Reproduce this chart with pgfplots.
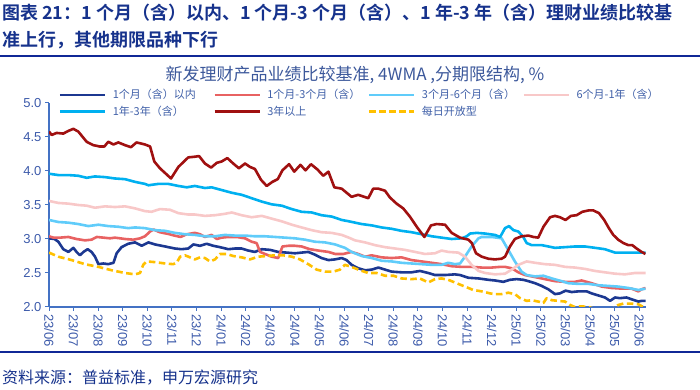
\documentclass[border=0pt]{standalone}
\usepackage{pgfplots}
\pgfplotsset{compat=1.18}
\usepackage{fontspec}
\setmainfont{Liberation Sans}
\newfontfamily\cjk{Noto Sans CJK SC}[BoldFont={Noto Sans CJK SC Bold}]
\definecolor{hdr}{RGB}{22,50,140}
\definecolor{hline}{RGB}{16,40,150}
\definecolor{ttl}{RGB}{60,88,155}
\definecolor{legtext}{RGB}{64,96,168}
\definecolor{ticklab}{RGB}{60,90,170}
\definecolor{axisblue}{RGB}{68,114,196}
\definecolor{cA}{RGB}{28,56,145}
\definecolor{cB}{RGB}{232,98,98}
\definecolor{cC}{RGB}{96,204,250}
\definecolor{cD}{RGB}{248,200,200}
\definecolor{cE}{RGB}{0,176,240}
\definecolor{cF}{RGB}{160,16,16}
\definecolor{cG}{RGB}{255,192,0}
\begin{document}
\begin{tikzpicture}
\path[use as bounding box] (0pt,0pt) rectangle (700pt,390pt);
\node[anchor=west, inner sep=0pt, text=hdr, font=\cjk\bfseries\fontsize{18}{22}\selectfont] at (2pt,377pt) {图表 21：1 个月（含）以内、1 个月-3 个月（含）、1 年-3 年（含）理财业绩比较基};
\node[anchor=west, inner sep=0pt, text=hdr, font=\cjk\bfseries\fontsize{18}{22}\selectfont] at (2pt,350pt) {准上行，其他期限品种下行};
\draw[hline, line width=2.5pt] (0pt,334pt) -- (700pt,334pt);
\draw[hline, line width=2.5pt] (0pt,38pt) -- (700pt,38pt);
\node[anchor=west, inner sep=0pt, text=hdr, font=\cjk\fontsize{16}{18}\selectfont] at (2pt,12pt) {资料来源：普益标准，申万宏源研究};
\node[inner sep=0pt, text=ttl, font=\cjk\fontsize{17}{18}\selectfont] at (355pt,315pt) {新发理财产品业绩比较基准, 4WMA ,分期限结构, \%};
\begin{axis}[
  at={(49pt,83pt)}, anchor=south west,
  scale only axis, width=596.5pt, height=204pt,
  xmin=0, xmax=24.25, ymin=2, ymax=5,
  axis lines*=left,
  axis line style={draw=axisblue, line width=1.2pt, -},
  tick style={draw=axisblue, line width=1pt},
  major tick length=4pt, tick align=outside,
  xtick={0,1,...,24},
  xticklabels={23/06,23/07,23/08,23/09,23/10,23/11,23/12,24/01,24/02,24/03,24/04,24/05,24/06,24/07,24/08,24/09,24/10,24/11,24/12,25/01,25/02,25/03,25/04,25/05,25/06},
  ytick={2,2.5,3,3.5,4,4.5,5},
  yticklabel style={/pgf/number format/.cd, fixed, fixed zerofill, precision=1},
  /pgf/number format/assume math mode=true,
  ticklabel style={font=\fontsize{13}{13}\selectfont, text=ticklab},
  xticklabel style={rotate=-90, anchor=west},
  legend columns=4,
  legend style={at={(axis description cs:0.0159,1.075)}, anchor=north west, draw=none, fill=none,
    font=\cjk\fontsize{11}{12}\selectfont, text=legtext, inner sep=0pt,
    nodes={inner sep=1.5pt}, row sep=3pt,
    /tikz/every odd column/.append style={column sep=5pt},
    /tikz/every even column/.append style={column sep=0pt}},
  legend image code/.code={\draw[#1] (0pt,0pt) -- (45pt,0pt);},
  every axis plot/.append style={line width=2.6pt, line join=round},
]
\addplot[cA] coordinates {(0,3.01)(0.22,3.00)(0.38,2.96)(0.58,2.85)(0.79,2.81)(0.99,2.87)(1.12,2.81)(1.26,2.76)(1.40,2.81)(1.57,2.85)(1.73,2.81)(1.87,2.74)(2.01,2.63)(2.21,2.64)(2.41,2.63)(2.62,2.65)(2.75,2.79)(2.95,2.88)(3.22,2.93)(3.50,2.95)(3.77,2.90)(4.04,2.95)(4.31,2.92)(4.72,2.89)(5.12,2.86)(5.39,2.85)(5.66,2.86)(5.87,2.92)(6.14,2.90)(6.41,2.93)(6.68,2.90)(6.95,2.88)(7.29,2.85)(7.56,2.86)(7.83,2.86)(8.10,2.83)(8.37,2.81)(8.65,2.85)(8.99,2.84)(9.32,2.81)(9.66,2.80)(10.00,2.79)(10.27,2.80)(10.54,2.81)(10.81,2.77)(11.08,2.72)(11.36,2.69)(11.63,2.70)(11.90,2.72)(12.10,2.69)(12.30,2.62)(12.57,2.57)(12.85,2.54)(13.12,2.55)(13.39,2.58)(13.66,2.55)(13.93,2.52)(14.33,2.51)(14.74,2.51)(15.08,2.53)(15.42,2.50)(15.69,2.47)(16.10,2.47)(16.50,2.48)(16.71,2.47)(17.05,2.43)(17.46,2.42)(17.86,2.40)(18.13,2.39)(18.47,2.37)(18.74,2.40)(19.01,2.41)(19.28,2.40)(19.49,2.38)(19.76,2.35)(20.03,2.31)(20.30,2.26)(20.57,2.19)(20.77,2.20)(21.00,2.24)(21.25,2.22)(21.52,2.23)(21.86,2.23)(22.06,2.20)(22.33,2.17)(22.60,2.14)(22.81,2.09)(23.01,2.14)(23.21,2.13)(23.48,2.14)(23.71,2.11)(23.96,2.08)(24.09,2.09)(24.25,2.09)};
\addlegendentry{\makebox[99pt][l]{1个月（含）以内}}
\addplot[cB] coordinates {(0,3.04)(0.18,3.02)(0.45,3.02)(0.79,3.03)(1.12,3.00)(1.46,2.98)(1.73,2.99)(1.94,3.03)(2.21,3.02)(2.48,3.01)(2.68,3.02)(3.09,3.00)(3.43,2.99)(3.70,3.01)(3.90,3.04)(4.11,3.11)(4.25,3.14)(4.5,3.10)(4.9,3.07)(5.1,3.05)(5.35,3.03)(5.6,3.07)(5.93,3.09)(6.14,3.07)(6.34,3.03)(6.61,3.06)(6.82,3.00)(7.02,3.02)(7.29,3.03)(7.63,3.03)(7.97,3.01)(8.24,2.96)(8.44,2.94)(8.58,2.81)(8.78,2.78)(9.05,2.74)(9.32,2.72)(9.49,2.89)(9.73,2.90)(10.00,2.90)(10.27,2.89)(10.61,2.85)(10.95,2.83)(11.36,2.81)(11.63,2.78)(11.97,2.78)(12.19,2.80)(12.30,2.81)(12.57,2.78)(12.85,2.74)(13.12,2.76)(13.52,2.73)(13.93,2.72)(14.33,2.73)(14.74,2.69)(15.15,2.67)(15.56,2.65)(15.96,2.63)(16.37,2.60)(16.78,2.59)(17.18,2.59)(17.59,2.58)(18.00,2.58)(18.34,2.59)(18.54,2.59)(18.81,2.57)(19.08,2.51)(19.35,2.47)(19.76,2.44)(20.16,2.41)(20.57,2.38)(20.98,2.37)(21.38,2.37)(21.65,2.39)(22.06,2.35)(22.47,2.30)(22.87,2.28)(23.28,2.27)(23.68,2.27)(23.96,2.23)(24.09,2.26)(24.25,2.28)};
\addlegendentry{\makebox[99pt][l]{1个月-3个月（含）}}
\addplot[cC] coordinates {(0,3.28)(0.38,3.25)(0.79,3.24)(1.19,3.22)(1.60,3.19)(2.01,3.21)(2.41,3.19)(2.82,3.18)(3.22,3.16)(3.50,3.17)(3.90,3.16)(4.31,3.13)(4.72,3.12)(5.12,3.09)(5.53,3.07)(5.93,3.06)(6.34,3.04)(6.75,3.04)(7.15,3.06)(7.56,3.05)(7.97,3.05)(8.37,3.04)(8.78,3.04)(9.19,3.03)(9.59,3.02)(10.00,3.01)(10.41,2.99)(10.81,2.96)(11.22,2.95)(11.63,2.92)(12.03,2.87)(12.30,2.81)(12.71,2.75)(13.12,2.72)(13.52,2.68)(13.93,2.67)(14.33,2.65)(14.74,2.64)(15.15,2.63)(15.56,2.62)(15.96,2.62)(16.23,2.65)(16.50,2.63)(16.71,2.64)(16.91,2.74)(17.18,2.89)(17.46,3.01)(17.59,3.03)(18.00,3.03)(18.40,3.01)(18.67,2.84)(18.94,2.67)(19.21,2.52)(19.42,2.47)(19.76,2.45)(20.10,2.46)(20.44,2.42)(20.84,2.38)(21.11,2.35)(21.52,2.34)(21.93,2.34)(22.33,2.32)(22.74,2.31)(23.14,2.30)(23.55,2.28)(23.96,2.25)(24.25,2.27)};
\addlegendentry{\makebox[99pt][l]{3个月-6个月（含）}}
\addplot[cD] coordinates {(0,3.56)(0.38,3.53)(0.79,3.52)(1.19,3.50)(1.53,3.49)(1.87,3.46)(2.28,3.48)(2.68,3.47)(3.09,3.48)(3.50,3.45)(3.90,3.41)(4.17,3.40)(4.51,3.44)(4.92,3.43)(5.26,3.38)(5.66,3.36)(5.93,3.36)(6.34,3.34)(6.75,3.35)(7.15,3.37)(7.43,3.39)(7.83,3.35)(8.24,3.32)(8.65,3.34)(9.05,3.30)(9.46,3.26)(9.87,3.21)(10.27,3.17)(10.68,3.13)(11.08,3.10)(11.49,3.09)(11.90,3.06)(12.19,3.02)(12.44,2.98)(12.85,2.95)(13.25,2.91)(13.66,2.88)(14.07,2.86)(14.47,2.84)(14.88,2.81)(15.28,2.78)(15.69,2.79)(15.96,2.83)(16.23,2.81)(16.64,2.80)(16.91,2.74)(17.18,2.62)(17.46,2.53)(17.73,2.50)(18.13,2.48)(18.54,2.49)(18.81,2.55)(19.08,2.62)(19.42,2.67)(19.76,2.65)(20.16,2.63)(20.57,2.62)(20.98,2.59)(21.38,2.58)(21.79,2.56)(22.20,2.53)(22.60,2.51)(23.01,2.49)(23.41,2.48)(23.82,2.50)(24.09,2.50)(24.25,2.50)};
\addlegendentry{\makebox[99pt][l]{6个月-1年（含）}}
\addplot[cE] coordinates {(0,3.96)(0.38,3.94)(0.79,3.94)(1.19,3.93)(1.53,3.90)(1.87,3.92)(2.28,3.91)(2.68,3.89)(3.09,3.88)(3.50,3.84)(3.90,3.81)(4.04,3.79)(4.44,3.81)(4.85,3.81)(5.26,3.78)(5.60,3.76)(5.93,3.78)(6.34,3.75)(6.61,3.76)(7.02,3.72)(7.43,3.68)(7.83,3.65)(8.24,3.60)(8.65,3.55)(9.05,3.51)(9.46,3.49)(9.87,3.44)(10.27,3.40)(10.68,3.39)(11.08,3.35)(11.49,3.33)(11.90,3.28)(12.19,3.26)(12.71,3.22)(13.12,3.20)(13.52,3.17)(13.93,3.15)(14.33,3.12)(14.74,3.10)(15.15,3.07)(15.56,3.04)(15.96,3.02)(16.37,3.00)(16.78,3.01)(16.98,3.04)(17.12,3.08)(17.39,3.09)(17.73,3.08)(18.13,3.06)(18.34,3.03)(18.54,3.16)(18.70,3.19)(18.88,3.13)(19.08,3.11)(19.28,3.03)(19.42,2.94)(19.62,2.91)(20.03,2.91)(20.30,2.89)(20.57,2.87)(20.98,2.88)(21.38,2.89)(21.79,2.89)(22.20,2.87)(22.60,2.85)(23.01,2.80)(23.41,2.80)(23.82,2.80)(24.25,2.80)};
\addlegendentry{\makebox[99pt][l]{1年-3年（含）}}
\addplot[cF] coordinates {(0,4.58)(0.11,4.53)(0.31,4.56)(0.58,4.55)(0.79,4.59)(0.99,4.62)(1.19,4.58)(1.53,4.43)(1.80,4.38)(2.07,4.36)(2.25,4.36)(2.41,4.43)(2.62,4.39)(2.82,4.42)(3.09,4.38)(3.33,4.35)(3.56,4.42)(3.90,4.39)(4.11,4.36)(4.28,4.14)(4.51,4.04)(4.96,3.89)(5.26,4.06)(5.66,4.20)(5.93,4.21)(6.10,4.22)(6.34,4.11)(6.59,4.05)(6.82,4.12)(7.02,4.14)(7.25,4.19)(7.49,4.11)(7.72,4.04)(7.97,4.11)(8.17,4.06)(8.37,4.03)(8.62,3.87)(8.85,3.78)(9.08,3.84)(9.30,3.88)(9.49,4.01)(9.76,4.10)(9.97,3.99)(10.22,4.09)(10.43,4.01)(10.65,4.10)(10.92,4.02)(11.15,3.93)(11.36,3.99)(11.60,3.76)(11.90,3.74)(12.10,3.68)(12.30,3.62)(12.57,3.65)(12.98,3.60)(13.18,3.74)(13.39,3.74)(13.66,3.71)(13.86,3.61)(14.13,3.52)(14.40,3.45)(14.67,3.33)(14.95,3.18)(15.26,3.03)(15.53,3.20)(15.76,3.22)(16.10,3.21)(16.37,3.09)(16.71,3.02)(17.05,2.99)(17.19,2.94)(17.36,2.79)(17.59,2.74)(17.86,2.71)(18.13,2.70)(18.40,2.71)(18.54,2.74)(18.74,2.89)(18.94,3.00)(19.21,3.04)(19.49,3.05)(19.69,3.03)(19.89,3.02)(20.10,3.18)(20.37,3.32)(20.57,3.34)(20.77,3.32)(21.00,3.28)(21.22,3.34)(21.45,3.35)(21.68,3.40)(21.93,3.42)(22.13,3.42)(22.36,3.38)(22.57,3.28)(22.76,3.16)(22.94,3.06)(23.14,2.99)(23.35,2.94)(23.55,2.91)(23.71,2.91)(23.89,2.86)(24.09,2.81)(24.25,2.78)};
\addlegendentry{\makebox[99pt][l]{3年以上}}
\addplot[cG, dash pattern=on 6.5pt off 3.5pt] coordinates {(0,2.80)(0.38,2.74)(0.92,2.69)(1.46,2.63)(2.01,2.59)(2.55,2.54)(3.09,2.50)(3.50,2.48)(3.70,2.50)(3.83,2.62)(3.97,2.67)(4.31,2.66)(4.72,2.64)(5.05,2.63)(5.19,2.65)(5.33,2.74)(5.53,2.76)(5.80,2.72)(5.93,2.70)(6.14,2.73)(6.34,2.72)(6.54,2.67)(6.75,2.70)(6.95,2.78)(7.22,2.78)(7.49,2.75)(7.83,2.73)(8.17,2.70)(8.51,2.74)(8.85,2.75)(9.19,2.76)(9.53,2.76)(9.87,2.74)(10.20,2.70)(10.54,2.63)(10.88,2.55)(11.22,2.52)(11.56,2.52)(11.83,2.55)(12.03,2.62)(12.30,2.59)(12.64,2.54)(12.98,2.50)(13.32,2.50)(13.66,2.46)(14.00,2.46)(14.33,2.42)(14.74,2.41)(15.08,2.42)(15.42,2.36)(15.69,2.41)(15.96,2.42)(16.23,2.40)(16.57,2.35)(16.91,2.30)(17.25,2.25)(17.59,2.23)(17.93,2.20)(18.13,2.19)(18.40,2.19)(18.67,2.21)(18.94,2.19)(19.15,2.13)(19.42,2.09)(19.62,2.10)(19.89,2.08)(20.10,2.06)(20.23,2.13)(20.44,2.10)(20.71,2.09)(20.98,2.08)(21.18,2.03)(21.38,2.00)(21.65,2.01)(21.93,2.00)(22.2,1.97)(22.6,1.95)(22.9,1.97)(23.14,2.03)(23.35,2.05)(23.68,2.05)(23.96,2.04)(24.16,2.00)(24.25,1.98)};
\addlegendentry{\makebox[99pt][l]{每日开放型}}
\end{axis}
\end{tikzpicture}
\end{document}
